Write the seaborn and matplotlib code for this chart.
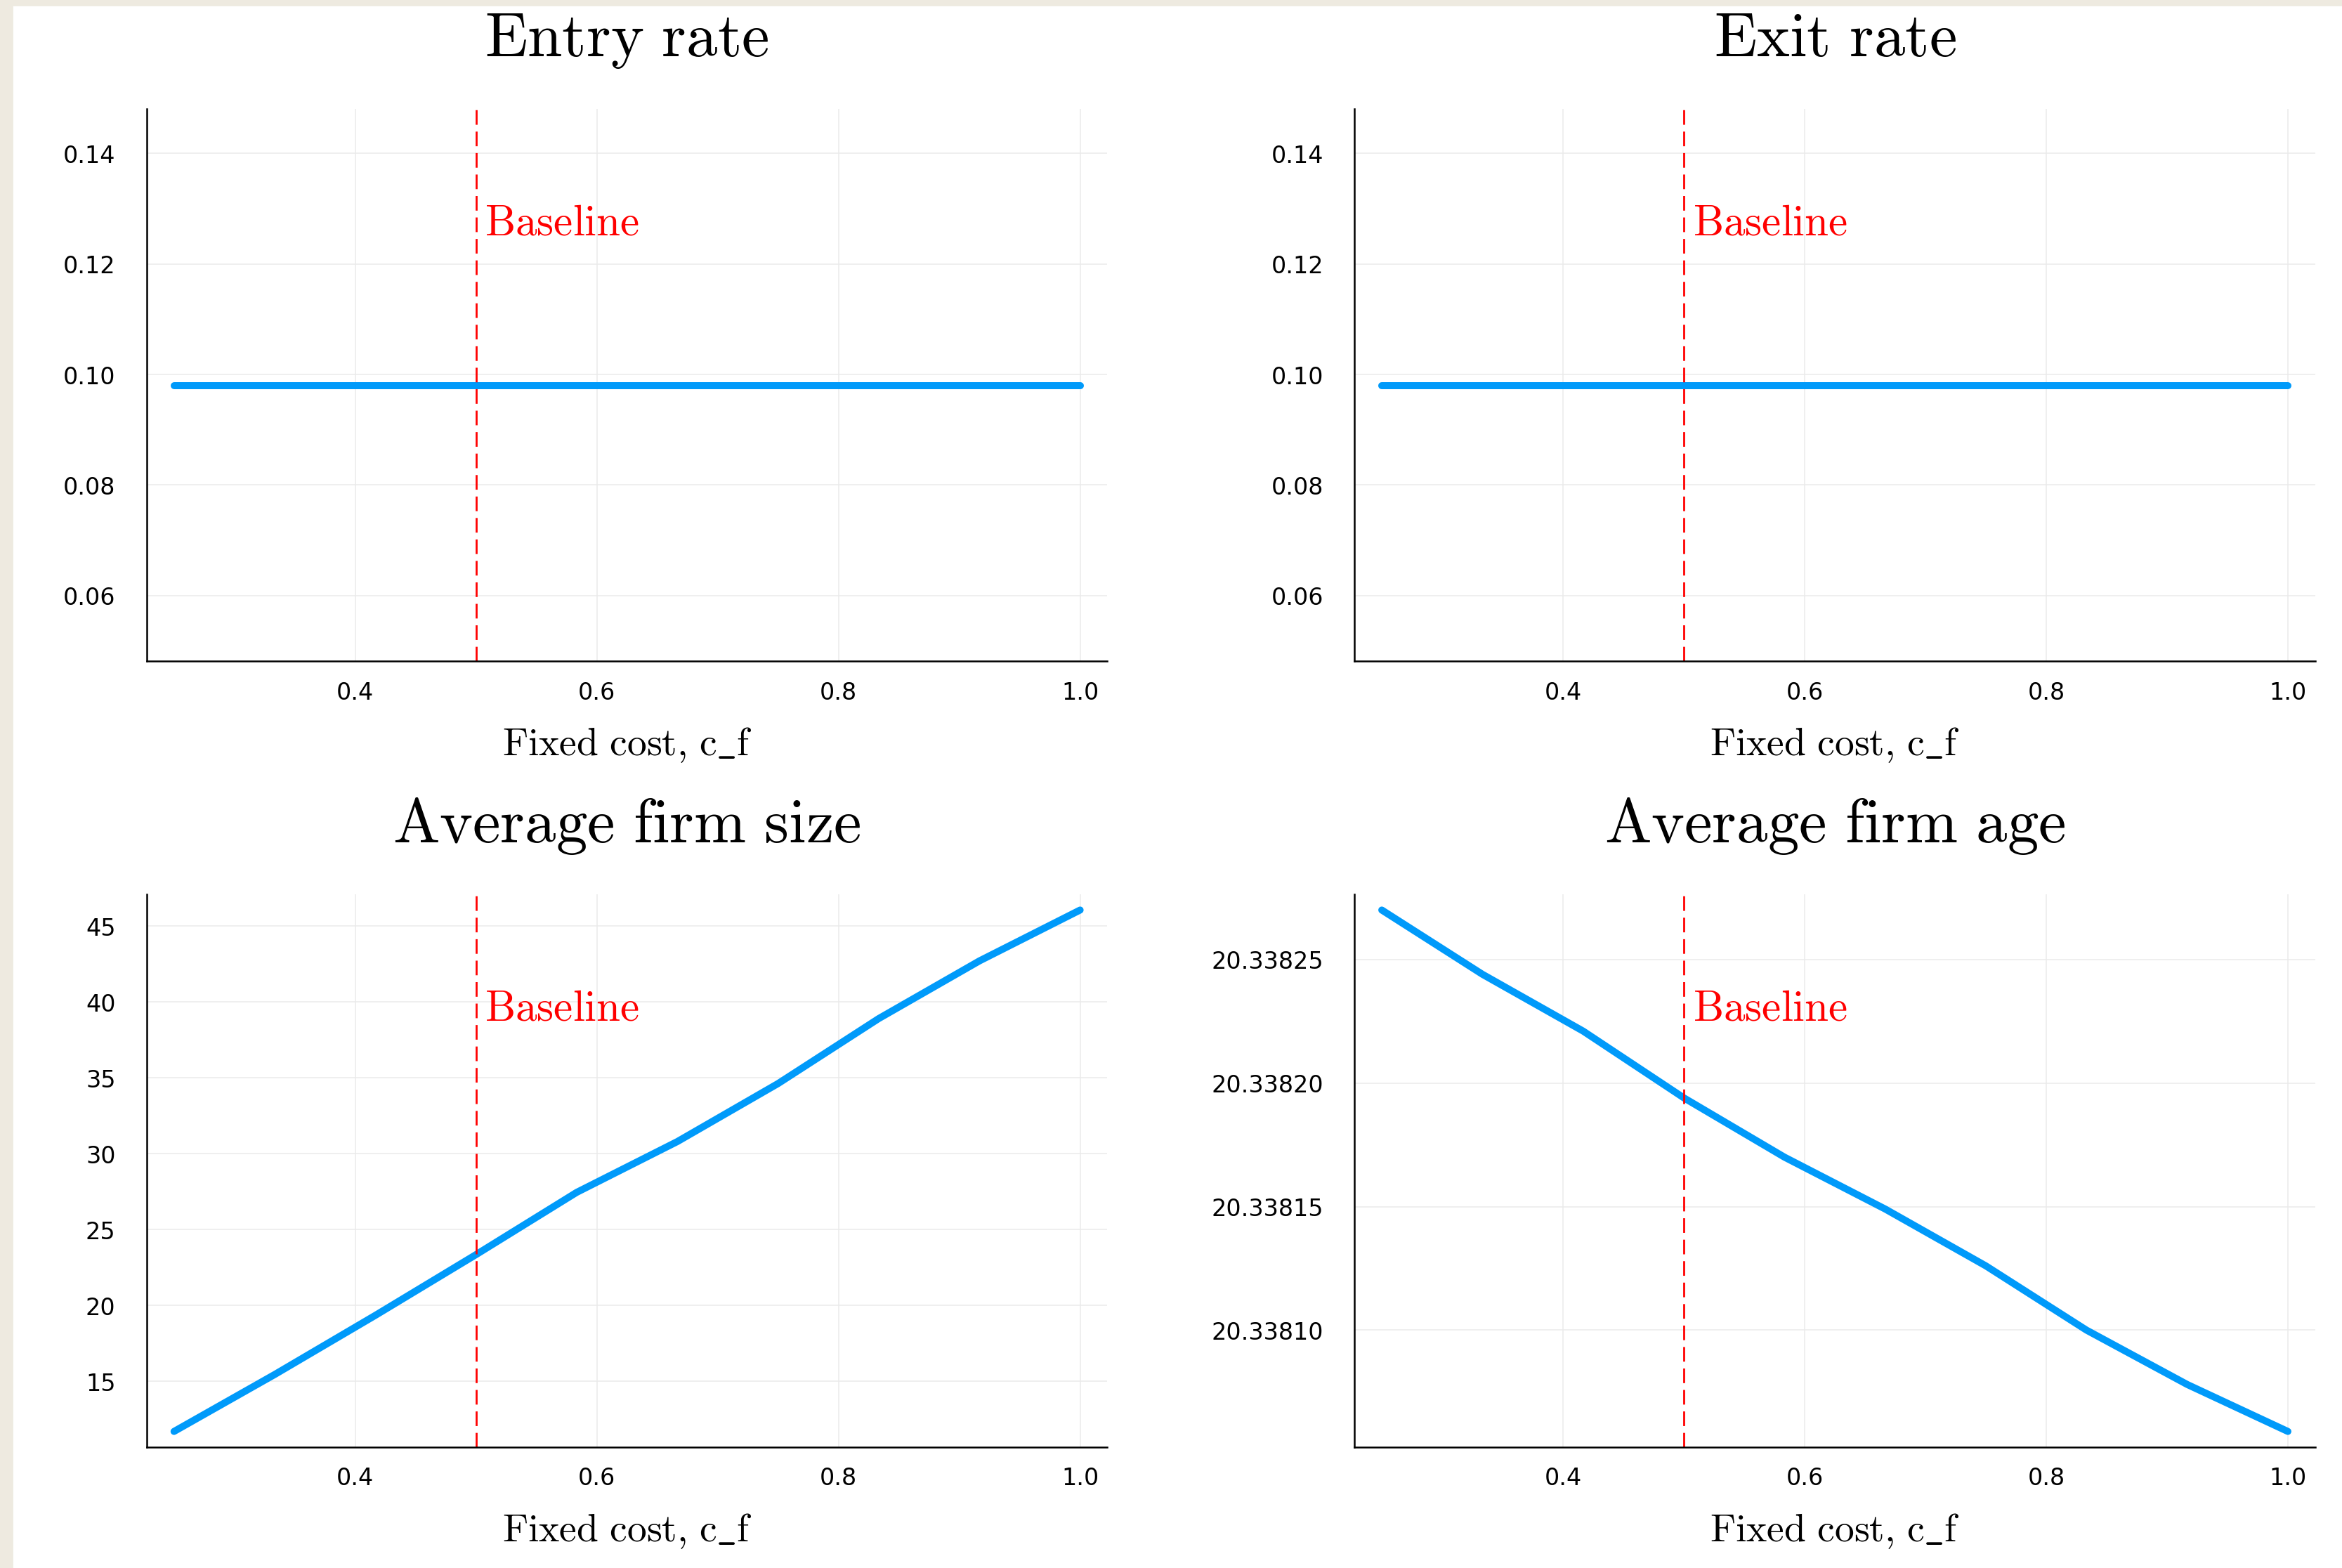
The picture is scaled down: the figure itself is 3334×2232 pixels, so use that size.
import numpy as np
import pandas as pd
import matplotlib
matplotlib.use("Agg")
import matplotlib.pyplot as plt
from matplotlib.patches import Rectangle
from matplotlib.ticker import MultipleLocator, FormatStrFormatter
import seaborn as sns

# fixed cost grid and the four outcomes
fixed_cost = [0.25, 0.3333, 0.4167, 0.5, 0.5833, 0.6667, 0.75, 0.8333, 0.9167, 1.0]
entry_rate = [0.098, 0.098, 0.098, 0.098, 0.098, 0.098, 0.098, 0.098, 0.098, 0.098]
exit_rate = [0.098, 0.098, 0.098, 0.098, 0.098, 0.098, 0.098, 0.098, 0.098, 0.098]
avg_size = [11.70, 15.45, 19.35, 23.35, 27.45, 30.80, 34.62, 38.90, 42.70, 46.05]
avg_age = [20.338270, 20.338244, 20.338221, 20.338194, 20.338170,
           20.338149, 20.338126, 20.338100, 20.338078, 20.338059]
baseline = 0.5

titles = ["Entry rate", "Exit rate", "Average firm size", "Average firm age"]
xlabel = "Fixed cost, c_f"

BLUE = "#009afa"

sns.set_theme(style="whitegrid")
plt.rcParams["font.family"] = ["DejaVu Sans"]
plt.rcParams["mathtext.fontset"] = "cm"
plt.rcParams["text.color"] = "black"
plt.rcParams["axes.labelcolor"] = "black"
plt.rcParams["axes.titlecolor"] = "black"


def tex(s):
    # plain roman text through mathtext (Computer Modern look)
    s = s.replace(" ", r"\ ").replace("_", r"\_").replace(",", "{,}")
    return r"$\mathrm{" + s + "}$"


def draw_panel(ax, y, title, ylim=None, ystep=None, yfmt="%.2f"):
    df = pd.DataFrame({"x": fixed_cost, "y": y})
    sns.lineplot(data=df, x="x", y="y", ax=ax, color=BLUE, linewidth=3.6,
                 solid_capstyle="round", solid_joinstyle="round")
    ax.axvline(baseline, color="red", linewidth=1.0, dashes=(7.5, 3.5))
    ax.annotate(tex("Baseline"), xy=(baseline, 0.793),
                xycoords=ax.get_xaxis_transform(), xytext=(4.5, 0),
                textcoords="offset points", color="red", fontsize=22,
                ha="left", va="center")

    ax.margins(x=0.03, y=0.03)
    if ylim is not None:
        ax.set_ylim(*ylim)
    ax.xaxis.set_major_locator(MultipleLocator(0.2))
    ax.xaxis.set_major_formatter(FormatStrFormatter("%.1f"))
    ax.yaxis.set_major_locator(MultipleLocator(ystep))
    ax.yaxis.set_major_formatter(FormatStrFormatter(yfmt))

    ax.set_title(tex(title), fontsize=32, pad=27)
    ax.set_xlabel(tex(xlabel), fontsize=20, labelpad=11)
    ax.set_ylabel("")

    ax.grid(True, color="#ebebeb", linewidth=0.55)
    for side in ["top", "right"]:
        ax.spines[side].set_visible(False)
    for side in ["left", "bottom"]:
        ax.spines[side].set_color("black")
        ax.spines[side].set_linewidth(0.9)
    ax.tick_params(axis="both", direction="in", length=5, width=0.9,
                   colors="black", labelsize=12)
    ax.tick_params(axis="y", pad=16)
    ax.tick_params(axis="x", pad=10)
    ax.set_facecolor("white")


fig = plt.figure(figsize=(16.67, 11.1625), dpi=200)
fig.patch.set_facecolor("white")

w, h = 0.4101, 0.3524
ax1 = fig.add_axes([0.0627, 0.5781, w, h])
ax2 = fig.add_axes([0.5784, 0.5781, w, h])
ax3 = fig.add_axes([0.0627, 0.0771, w, h])
ax4 = fig.add_axes([0.5784, 0.0771, w, h])

draw_panel(ax1, entry_rate, titles[0], ylim=(0.0481, 0.1481), ystep=0.02)
draw_panel(ax2, exit_rate, titles[1], ylim=(0.0481, 0.1481), ystep=0.02)
draw_panel(ax3, avg_size, titles[2], ystep=5, yfmt="%d")
draw_panel(ax4, avg_age, titles[3], ystep=0.00005, yfmt="%.5f")

# beige strips at the left and top edge
beige = "#eeeae0"
fig.patches.append(Rectangle((0, 0), 17 / 3334, 1, transform=fig.transFigure,
                             color=beige, zorder=-1))
fig.patches.append(Rectangle((0, 1 - 8 / 2233), 1, 8 / 2233,
                             transform=fig.transFigure, color=beige, zorder=-1))

fig.savefig("out.png", dpi=200, facecolor="white")
